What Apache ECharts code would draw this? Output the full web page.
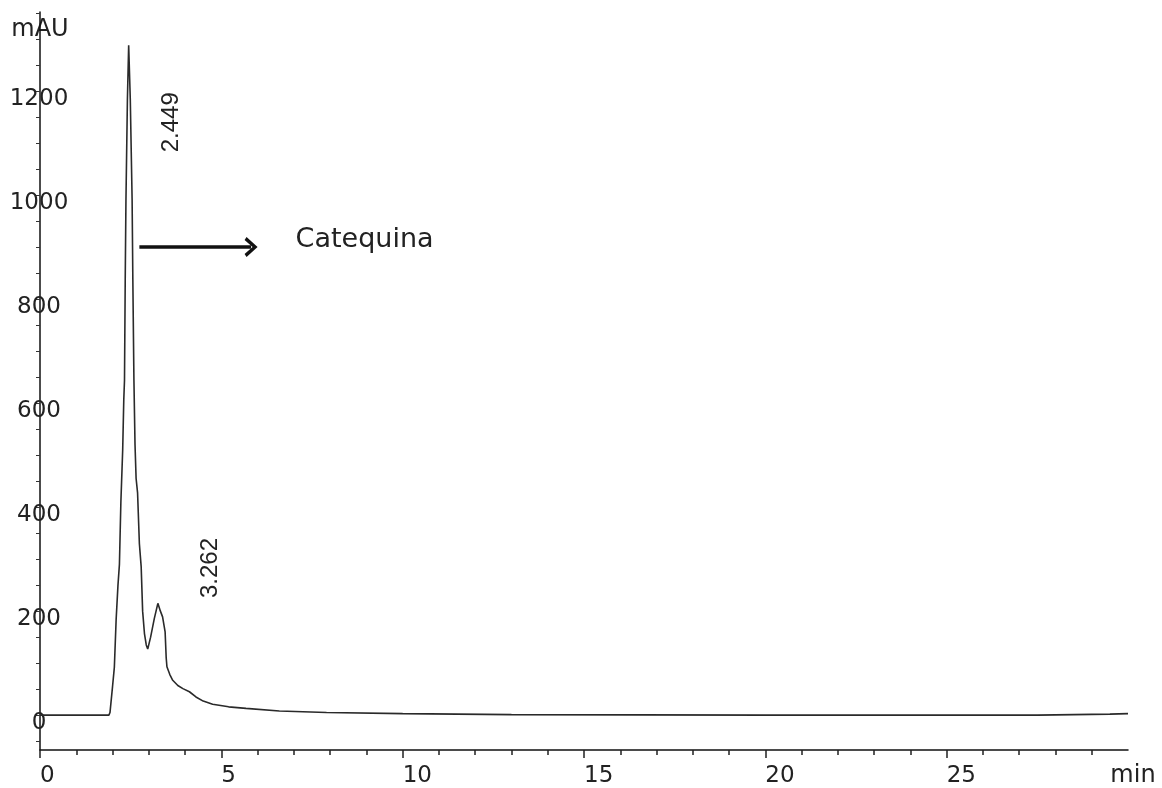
<!DOCTYPE html>
<html>
<head>
<meta charset="utf-8">
<script src="https://cdn.jsdelivr.net/npm/echarts@6/dist/echarts.min.js"></script>
<style>
  html, body { margin: 0; padding: 0; background: #fff; }
  #chart { width: 1162px; height: 788px; }
</style>
</head>
<body>
<div id="chart"></div>
<script>
// cromatograma - tiempo (min) vs absorbancia (mAU)
var timeMin = [0, 1.9, 1.93, 2.0, 2.05, 2.1, 2.15, 2.19, 2.23, 2.28, 2.31, 2.33, 2.35, 2.37, 2.41, 2.445,
  2.49, 2.54, 2.56, 2.59, 2.62, 2.65, 2.69, 2.74, 2.79, 2.83, 2.88, 2.93, 2.97, 3.05, 3.15, 3.25,
  3.32, 3.38, 3.45, 3.48, 3.5, 3.58, 3.66, 3.8, 3.94, 4.12, 4.3, 4.5, 4.76, 5.2, 5.68, 6.6, 7.9,
  10, 13, 20, 27.5, 28.5, 29.5, 30];
var absorb = [0, 0, 5, 55, 92, 185, 250, 290, 410, 510, 606, 644, 837, 990, 1183, 1288,
  1183, 990, 837, 644, 520, 455, 428, 330, 285, 200, 157, 135, 127, 150, 185, 215,
  200, 189, 160, 110, 93, 78, 67, 57, 51, 45, 35, 27, 21, 16, 13, 8, 5,
  3, 1, 0, 0, 1, 2, 3];

var yTicks = [];
for (var v = -50; v <= 1350; v += 50) yTicks.push(v);
var yLabels = [0, 200, 400, 600, 800, 1000, 1200];
var xLabels = [0, 5, 10, 15, 20, 25];

var peakTimes = ['2.449', '3.262'];
var compound = 'Catequina';

var trace = timeMin.map(function (x, i) { return [x, absorb[i]]; });

var myChart = echarts.init(document.getElementById('chart'));
var option = {
  animation: false,
  backgroundColor: '#fff',
  textStyle: { fontFamily: 'DejaVu Sans' },
  grid: { left: 40, right: 34, top: 12, bottom: 38 },
  xAxis: {
    type: 'value', min: 0, max: 30, interval: 5,
    name: 'min', nameLocation: 'end', nameGap: 5,
    nameTextStyle: { color: '#222', fontSize: 24, align: 'center', verticalAlign: 'top', padding: [14, 0, 0, 0] },
    axisLine: { show: true, onZero: false, lineStyle: { color: '#111', width: 1.5 } },
    axisTick: { show: true, customValues: xLabels, length: 8, lineStyle: { color: '#222', width: 1.5 } },
    minorTick: { show: true, splitNumber: 5, length: 5, lineStyle: { color: '#222', width: 1.5 } },
    axisLabel: { customValues: xLabels, color: '#222', fontSize: 23, margin: 15, align: 'left' },
    splitLine: { show: false },
    minorSplitLine: { show: false }
  },
  yAxis: {
    type: 'value', min: -67, max: 1352,
    name: 'mAU', nameLocation: 'end', nameGap: -18,
    nameTextStyle: { color: '#222', fontSize: 24, align: 'center', verticalAlign: 'middle' },
    axisLine: { show: true, onZero: false, lineStyle: { color: '#111', width: 1.5 } },
    axisTick: { show: true, customValues: yTicks, length: 4, lineStyle: { color: '#333', width: 1 } },
    axisLabel: {
      customValues: yLabels, color: '#222', fontSize: 23, margin: 1,
      align: 'center', verticalAlign: 'top', lineHeight: 16,
      formatter: function (val) { return String(val); }
    },
    splitLine: { show: false }
  },
  series: [{
    type: 'line',
    data: trace,
    showSymbol: false,
    lineStyle: { color: '#2a2a2a', width: 1.6 },
    silent: true,
    markPoint: {
      symbol: 'circle', symbolSize: 0, silent: true,
      label: { show: true, position: 'inside', color: '#222', formatter: '{b}' },
      data: [
        { name: peakTimes[0], coord: [3.62, 1140], label: { rotate: 90, fontSize: 24, fontFamily: 'Liberation Sans' } },
        { name: peakTimes[1], coord: [4.7, 283], label: { rotate: 90, fontSize: 24, fontFamily: 'Liberation Sans' } },
        { name: compound, coord: [8.95, 913], label: { fontSize: 27 } }
      ]
    },
    markLine: {
      silent: true,
      symbol: ['none', 'path://M10,0 L20,11 L17,13 L10,5 L3,13 L0,11 Z'],
      symbolSize: [20, 13],
      label: { show: false },
      lineStyle: { color: '#111', width: 3.5, type: 'solid' },
      data: [[{ coord: [2.74, 900] }, { coord: [5.82, 900] }]]
    }
  }]
};
myChart.setOption(option);
window.addEventListener('resize', function () { myChart.resize(); });
</script>
</body>
</html>
